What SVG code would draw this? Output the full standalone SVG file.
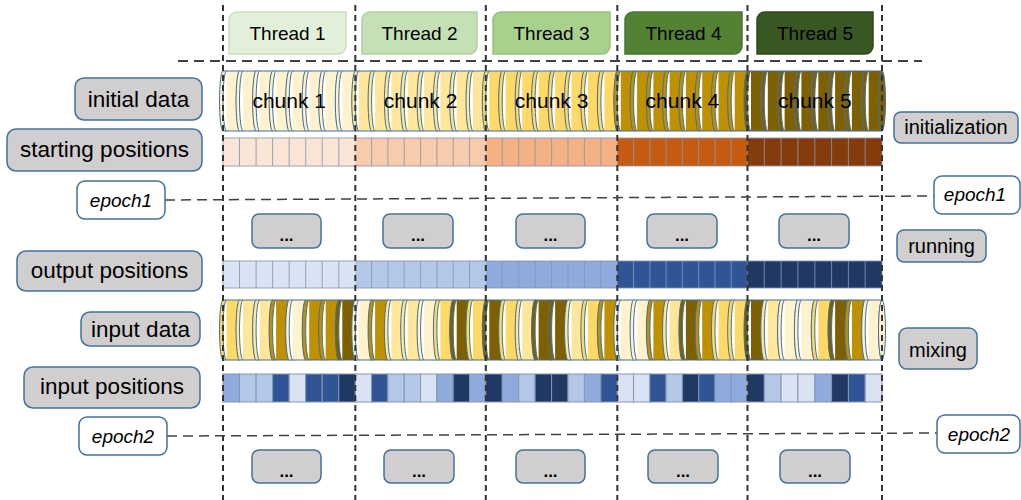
<svg xmlns="http://www.w3.org/2000/svg" width="1021" height="500" viewBox="0 0 1021 500">
<style>
.t{font-family:"Liberation Sans",Arial,sans-serif;fill:#000}
.lbl{fill:#D0CECE;stroke:#41719C;stroke-width:1.5}
.ep{fill:#fff;stroke:#41719C;stroke-width:1.5}
.disc{stroke:#41719C;stroke-width:1}
.cell{stroke:#8497B0;stroke-width:1}
.sep{stroke:#8497B0;stroke-width:1;fill:none;stroke-opacity:0.85}
.vd{stroke:#333;stroke-width:2;stroke-dasharray:6 4;fill:none}
.hd{stroke:#404040;stroke-width:2;stroke-dasharray:10 6;fill:none}
.ed{stroke:#404040;stroke-width:1.5;stroke-dasharray:10 6;fill:none}
.L0{fill:#FFF2CC}.L1{fill:#FFE699}.L2{fill:#FFD966}.L3{fill:#BF9000}.L4{fill:#7F6000}
.B0{fill:#DAE3F3}.B1{fill:#B4C7E7}.B2{fill:#8FAADC}.B3{fill:#2F5597}.B4{fill:#203864}
</style>
<defs>
<path id="disc" d="M0,0 H16.9 A3.5,30 0 0 0 16.9,60 H0 A3.5,30 0 0 1 0,0 Z M3.5,0 A3.5,30 0 0 0 3.5,60"/>
</defs>

<!-- thread headers -->
<g id="thread1"><path d="M237,12 H346 V46 A8,8 0 0 1 338,54 H229 V20 A8,8 0 0 1 237,12 Z" fill="#E2F0D9" stroke="#C9DFBC" stroke-width="1.5"/><text class="t" x="287.5" y="40" font-size="19" text-anchor="middle">Thread 1</text></g>
<g id="thread2"><path d="M370,12 H477 V46 A8,8 0 0 1 469,54 H362 V20 A8,8 0 0 1 370,12 Z" fill="#C5E0B4" stroke="#B0CFA0" stroke-width="1.5"/><text class="t" x="419.5" y="40" font-size="19" text-anchor="middle">Thread 2</text></g>
<g id="thread3"><path d="M501,12 H610 V46 A8,8 0 0 1 602,54 H493 V20 A8,8 0 0 1 501,12 Z" fill="#A9D18E" stroke="#98C07E" stroke-width="1.5"/><text class="t" x="551.5" y="40" font-size="19" text-anchor="middle">Thread 3</text></g>
<g id="thread4"><path d="M633,12 H742 V46 A8,8 0 0 1 734,54 H625 V20 A8,8 0 0 1 633,12 Z" fill="#548235" stroke="#4A7530" stroke-width="1.5"/><text class="t" x="683.5" y="40" font-size="19" text-anchor="middle">Thread 4</text></g>
<g id="thread5"><path d="M765,12 H873 V46 A8,8 0 0 1 865,54 H757 V20 A8,8 0 0 1 765,12 Z" fill="#385723" stroke="#2F4A1D" stroke-width="1.5"/><text class="t" x="815" y="40" font-size="19" text-anchor="middle">Thread 5</text></g>

<!-- initial data -->
<g id="initial-data-row" class="disc">
<use href="#disc" x="223" y="71" class="L0"/><use href="#disc" x="239.5" y="71" class="L0"/><use href="#disc" x="256.1" y="71" class="L0"/><use href="#disc" x="272.6" y="71" class="L0"/><use href="#disc" x="289.2" y="71" class="L0"/><use href="#disc" x="305.7" y="71" class="L0"/><use href="#disc" x="322.2" y="71" class="L0"/><use href="#disc" x="338.8" y="71" class="L0"/>
<use href="#disc" x="355.3" y="71" class="L1"/><use href="#disc" x="371.6" y="71" class="L1"/><use href="#disc" x="387.9" y="71" class="L1"/><use href="#disc" x="404.2" y="71" class="L1"/><use href="#disc" x="420.6" y="71" class="L1"/><use href="#disc" x="436.9" y="71" class="L1"/><use href="#disc" x="453.2" y="71" class="L1"/><use href="#disc" x="469.5" y="71" class="L1"/>
<use href="#disc" x="485.8" y="71" class="L2"/><use href="#disc" x="502.2" y="71" class="L2"/><use href="#disc" x="518.7" y="71" class="L2"/><use href="#disc" x="535.1" y="71" class="L2"/><use href="#disc" x="551.6" y="71" class="L2"/><use href="#disc" x="568" y="71" class="L2"/><use href="#disc" x="584.4" y="71" class="L2"/><use href="#disc" x="600.9" y="71" class="L2"/>
<use href="#disc" x="617.3" y="71" class="L3"/><use href="#disc" x="633.6" y="71" class="L3"/><use href="#disc" x="649.9" y="71" class="L3"/><use href="#disc" x="666.1" y="71" class="L3"/><use href="#disc" x="682.4" y="71" class="L3"/><use href="#disc" x="698.7" y="71" class="L3"/><use href="#disc" x="715" y="71" class="L3"/><use href="#disc" x="731.2" y="71" class="L3"/>
<use href="#disc" x="747.5" y="71" class="L4"/><use href="#disc" x="764.3" y="71" class="L4"/><use href="#disc" x="781.1" y="71" class="L4"/><use href="#disc" x="797.9" y="71" class="L4"/><use href="#disc" x="814.8" y="71" class="L4"/><use href="#disc" x="831.6" y="71" class="L4"/><use href="#disc" x="848.4" y="71" class="L4"/><use href="#disc" x="865.2" y="71" class="L4"/>
<ellipse cx="882" cy="101" rx="3.5" ry="30" class="L4"/>
<text class="t" x="289.2" y="108" font-size="21" text-anchor="middle" stroke="none">chunk 1</text>
<text class="t" x="420.6" y="108" font-size="21" text-anchor="middle" stroke="none">chunk 2</text>
<text class="t" x="551.6" y="108" font-size="21" text-anchor="middle" stroke="none">chunk 3</text>
<text class="t" x="682.4" y="108" font-size="21" text-anchor="middle" stroke="none">chunk 4</text>
<text class="t" x="814.8" y="108" font-size="21" text-anchor="middle" stroke="none">chunk 5</text>
</g>

<!-- starting positions -->
<g id="starting-positions-row">
<rect x="223" y="138" width="132.3" height="28" fill="#FBE5D6"/>
<rect x="355.3" y="138" width="130.5" height="28" fill="#F8CBAD"/>
<rect x="485.8" y="138" width="131.5" height="28" fill="#F4B183"/>
<rect x="617.3" y="138" width="130.2" height="28" fill="#C55A11"/>
<rect x="747.5" y="138" width="134.5" height="28" fill="#843C0C"/>
<path class="sep" d="M239.5,138V166M256.1,138V166M272.6,138V166M289.2,138V166M305.7,138V166M322.2,138V166M338.8,138V166M371.6,138V166M387.9,138V166M404.2,138V166M420.6,138V166M436.9,138V166M453.2,138V166M469.5,138V166M502.2,138V166M518.7,138V166M535.1,138V166M551.6,138V166M568,138V166M584.4,138V166M600.9,138V166M633.6,138V166M649.9,138V166M666.1,138V166M682.4,138V166M698.7,138V166M715,138V166M731.2,138V166M764.3,138V166M781.1,138V166M797.9,138V166M814.8,138V166M831.6,138V166M848.4,138V166M865.2,138V166"/>
<rect x="223" y="138" width="659" height="28" class="sep"/>
</g>

<!-- output positions -->
<g id="output-positions-row">
<rect x="223" y="261" width="132.3" height="27" fill="#DAE3F3"/>
<rect x="355.3" y="261" width="130.5" height="27" fill="#B4C7E7"/>
<rect x="485.8" y="261" width="131.5" height="27" fill="#8FAADC"/>
<rect x="617.3" y="261" width="130.2" height="27" fill="#2F5597"/>
<rect x="747.5" y="261" width="134.5" height="27" fill="#203864"/>
<path class="sep" d="M239.5,261V288M256.1,261V288M272.6,261V288M289.2,261V288M305.7,261V288M322.2,261V288M338.8,261V288M371.6,261V288M387.9,261V288M404.2,261V288M420.6,261V288M436.9,261V288M453.2,261V288M469.5,261V288M502.2,261V288M518.7,261V288M535.1,261V288M551.6,261V288M568,261V288M584.4,261V288M600.9,261V288M633.6,261V288M649.9,261V288M666.1,261V288M682.4,261V288M698.7,261V288M715,261V288M731.2,261V288M764.3,261V288M781.1,261V288M797.9,261V288M814.8,261V288M831.6,261V288M848.4,261V288M865.2,261V288"/>
<rect x="223" y="261" width="659" height="27" class="sep"/>
</g>

<!-- input data -->
<g id="input-data-row" class="disc">
<use href="#disc" x="223" y="300" class="L2"/><use href="#disc" x="239.5" y="300" class="L1"/><use href="#disc" x="256.1" y="300" class="L1"/><use href="#disc" x="272.6" y="300" class="L3"/><use href="#disc" x="289.2" y="300" class="L0"/><use href="#disc" x="305.7" y="300" class="L3"/><use href="#disc" x="322.2" y="300" class="L3"/><use href="#disc" x="338.8" y="300" class="L4"/>
<use href="#disc" x="355.3" y="300" class="L0"/><use href="#disc" x="371.6" y="300" class="L3"/><use href="#disc" x="387.9" y="300" class="L1"/><use href="#disc" x="404.2" y="300" class="L1"/><use href="#disc" x="420.6" y="300" class="L0"/><use href="#disc" x="436.9" y="300" class="L2"/><use href="#disc" x="453.2" y="300" class="L4"/><use href="#disc" x="469.5" y="300" class="L2"/>
<use href="#disc" x="485.8" y="300" class="L4"/><use href="#disc" x="502.2" y="300" class="L2"/><use href="#disc" x="518.7" y="300" class="L1"/><use href="#disc" x="535.1" y="300" class="L4"/><use href="#disc" x="551.6" y="300" class="L4"/><use href="#disc" x="568" y="300" class="L1"/><use href="#disc" x="584.4" y="300" class="L2"/><use href="#disc" x="600.9" y="300" class="L3"/>
<use href="#disc" x="617.3" y="300" class="L0"/><use href="#disc" x="633.6" y="300" class="L0"/><use href="#disc" x="649.9" y="300" class="L3"/><use href="#disc" x="666.1" y="300" class="L1"/><use href="#disc" x="682.4" y="300" class="L4"/><use href="#disc" x="698.7" y="300" class="L3"/><use href="#disc" x="715" y="300" class="L2"/><use href="#disc" x="731.2" y="300" class="L2"/>
<use href="#disc" x="747.5" y="300" class="L4"/><use href="#disc" x="764.3" y="300" class="L1"/><use href="#disc" x="781.1" y="300" class="L0"/><use href="#disc" x="797.9" y="300" class="L0"/><use href="#disc" x="814.8" y="300" class="L2"/><use href="#disc" x="831.6" y="300" class="L4"/><use href="#disc" x="848.4" y="300" class="L3"/><use href="#disc" x="865.2" y="300" class="L0"/>
<ellipse cx="882" cy="330" rx="3.5" ry="30" class="L0"/>
</g>

<!-- input positions -->
<g id="input-positions-row" class="cell">
<rect x="223" y="374" width="16.5" height="28" class="B2"/><rect x="239.5" y="374" width="16.6" height="28" class="B1"/><rect x="256.1" y="374" width="16.5" height="28" class="B1"/><rect x="272.6" y="374" width="16.6" height="28" class="B3"/><rect x="289.2" y="374" width="16.5" height="28" class="B0"/><rect x="305.7" y="374" width="16.5" height="28" class="B3"/><rect x="322.2" y="374" width="16.6" height="28" class="B3"/><rect x="338.8" y="374" width="16.5" height="28" class="B4"/>
<rect x="355.3" y="374" width="16.3" height="28" class="B0"/><rect x="371.6" y="374" width="16.3" height="28" class="B3"/><rect x="387.9" y="374" width="16.3" height="28" class="B1"/><rect x="404.2" y="374" width="16.4" height="28" class="B1"/><rect x="420.6" y="374" width="16.3" height="28" class="B0"/><rect x="436.9" y="374" width="16.3" height="28" class="B2"/><rect x="453.2" y="374" width="16.3" height="28" class="B4"/><rect x="469.5" y="374" width="16.3" height="28" class="B2"/>
<rect x="485.8" y="374" width="16.4" height="28" class="B4"/><rect x="502.2" y="374" width="16.5" height="28" class="B2"/><rect x="518.7" y="374" width="16.4" height="28" class="B1"/><rect x="535.1" y="374" width="16.5" height="28" class="B4"/><rect x="551.6" y="374" width="16.4" height="28" class="B4"/><rect x="568" y="374" width="16.4" height="28" class="B1"/><rect x="584.4" y="374" width="16.5" height="28" class="B2"/><rect x="600.9" y="374" width="16.4" height="28" class="B3"/>
<rect x="617.3" y="374" width="16.3" height="28" class="B0"/><rect x="633.6" y="374" width="16.3" height="28" class="B0"/><rect x="649.9" y="374" width="16.2" height="28" class="B3"/><rect x="666.1" y="374" width="16.3" height="28" class="B1"/><rect x="682.4" y="374" width="16.3" height="28" class="B4"/><rect x="698.7" y="374" width="16.3" height="28" class="B3"/><rect x="715" y="374" width="16.2" height="28" class="B2"/><rect x="731.2" y="374" width="16.3" height="28" class="B2"/>
<rect x="747.5" y="374" width="16.8" height="28" class="B4"/><rect x="764.3" y="374" width="16.8" height="28" class="B1"/><rect x="781.1" y="374" width="16.8" height="28" class="B0"/><rect x="797.9" y="374" width="16.9" height="28" class="B0"/><rect x="814.8" y="374" width="16.8" height="28" class="B2"/><rect x="831.6" y="374" width="16.8" height="28" class="B4"/><rect x="848.4" y="374" width="16.8" height="28" class="B3"/><rect x="865.2" y="374" width="16.8" height="28" class="B0"/>
</g>

<!-- connectors / guide lines -->
<g id="connectors">
<path class="vd" d="M223,5V500M355.3,5V500M485.8,5V500M617.3,5V500M747.5,5V500M882,5V500"/>
<path class="hd" d="M178,61H922"/>
<path class="ed" d="M165,200L934,196"/>
<path class="ed" d="M167,436L937,433"/>
</g>

<!-- left labels -->
<g id="label-initial-data"><rect class="lbl" x="75" y="78" width="127" height="42" rx="9"/><text class="t" x="138.5" y="107" font-size="22.5" text-anchor="middle">initial data</text></g>
<g id="label-starting-positions"><rect class="lbl" x="7" y="129" width="195" height="42" rx="9"/><text class="t" x="104.5" y="157" font-size="22.5" text-anchor="middle">starting positions</text></g>
<g id="label-epoch1-left"><rect class="ep" x="77" y="181" width="88" height="38" rx="8"/><text class="t" x="121" y="207" font-size="19" font-style="italic" text-anchor="middle">epoch1</text></g>
<g id="label-output-positions"><rect class="lbl" x="17" y="251" width="185" height="40" rx="9"/><text class="t" x="109.5" y="278" font-size="22.5" text-anchor="middle">output positions</text></g>
<g id="label-input-data"><rect class="lbl" x="81" y="312" width="119" height="34" rx="9"/><text class="t" x="140.5" y="337" font-size="22.5" text-anchor="middle">input data</text></g>
<g id="label-input-positions"><rect class="lbl" x="24" y="367" width="176" height="41" rx="9"/><text class="t" x="112" y="394" font-size="22.5" text-anchor="middle">input positions</text></g>
<g id="label-epoch2-left"><rect class="ep" x="79" y="417" width="88" height="38" rx="8"/><text class="t" x="123" y="443" font-size="19" font-style="italic" text-anchor="middle">epoch2</text></g>

<!-- right labels -->
<g id="label-initialization"><rect class="lbl" x="894" y="112" width="124" height="31" rx="7"/><text class="t" x="956" y="134" font-size="20" text-anchor="middle">initialization</text></g>
<g id="label-epoch1-right"><rect class="ep" x="934" y="176" width="86" height="38" rx="8"/><text class="t" x="975" y="201" font-size="19" font-style="italic" text-anchor="middle">epoch1</text></g>
<g id="label-running"><rect class="lbl" x="897" y="230" width="89" height="32" rx="7"/><text class="t" x="941.5" y="253" font-size="20" text-anchor="middle">running</text></g>
<g id="label-mixing"><rect class="lbl" x="899" y="328" width="78" height="41" rx="8"/><text class="t" x="938" y="357" font-size="20" text-anchor="middle">mixing</text></g>
<g id="label-epoch2-right"><rect class="ep" x="937" y="415" width="83" height="38" rx="8"/><text class="t" x="979" y="441" font-size="19" font-style="italic" text-anchor="middle">epoch2</text></g>

<!-- ellipsis boxes -->
<g id="dots-1-1"><rect class="lbl" x="252" y="214" width="69" height="34" rx="7"/><text class="t" x="286.5" y="241" font-size="17" font-weight="bold" text-anchor="middle">...</text></g>
<g id="dots-1-2"><rect class="lbl" x="383" y="214" width="70" height="34" rx="7"/><text class="t" x="418" y="241" font-size="17" font-weight="bold" text-anchor="middle">...</text></g>
<g id="dots-1-3"><rect class="lbl" x="516" y="214" width="69" height="34" rx="7"/><text class="t" x="550.5" y="241" font-size="17" font-weight="bold" text-anchor="middle">...</text></g>
<g id="dots-1-4"><rect class="lbl" x="647" y="214" width="70" height="34" rx="7"/><text class="t" x="682" y="241" font-size="17" font-weight="bold" text-anchor="middle">...</text></g>
<g id="dots-1-5"><rect class="lbl" x="779" y="214" width="70" height="34" rx="7"/><text class="t" x="814" y="241" font-size="17" font-weight="bold" text-anchor="middle">...</text></g>
<g id="dots-2-1"><rect class="lbl" x="252" y="450" width="69" height="33" rx="7"/><text class="t" x="286.5" y="477" font-size="17" font-weight="bold" text-anchor="middle">...</text></g>
<g id="dots-2-2"><rect class="lbl" x="384" y="450" width="70" height="33" rx="7"/><text class="t" x="419" y="477" font-size="17" font-weight="bold" text-anchor="middle">...</text></g>
<g id="dots-2-3"><rect class="lbl" x="516" y="450" width="69" height="33" rx="7"/><text class="t" x="550.5" y="477" font-size="17" font-weight="bold" text-anchor="middle">...</text></g>
<g id="dots-2-4"><rect class="lbl" x="648" y="450" width="70" height="33" rx="7"/><text class="t" x="683" y="477" font-size="17" font-weight="bold" text-anchor="middle">...</text></g>
<g id="dots-2-5"><rect class="lbl" x="780" y="450" width="70" height="33" rx="7"/><text class="t" x="815" y="477" font-size="17" font-weight="bold" text-anchor="middle">...</text></g>
</svg>
